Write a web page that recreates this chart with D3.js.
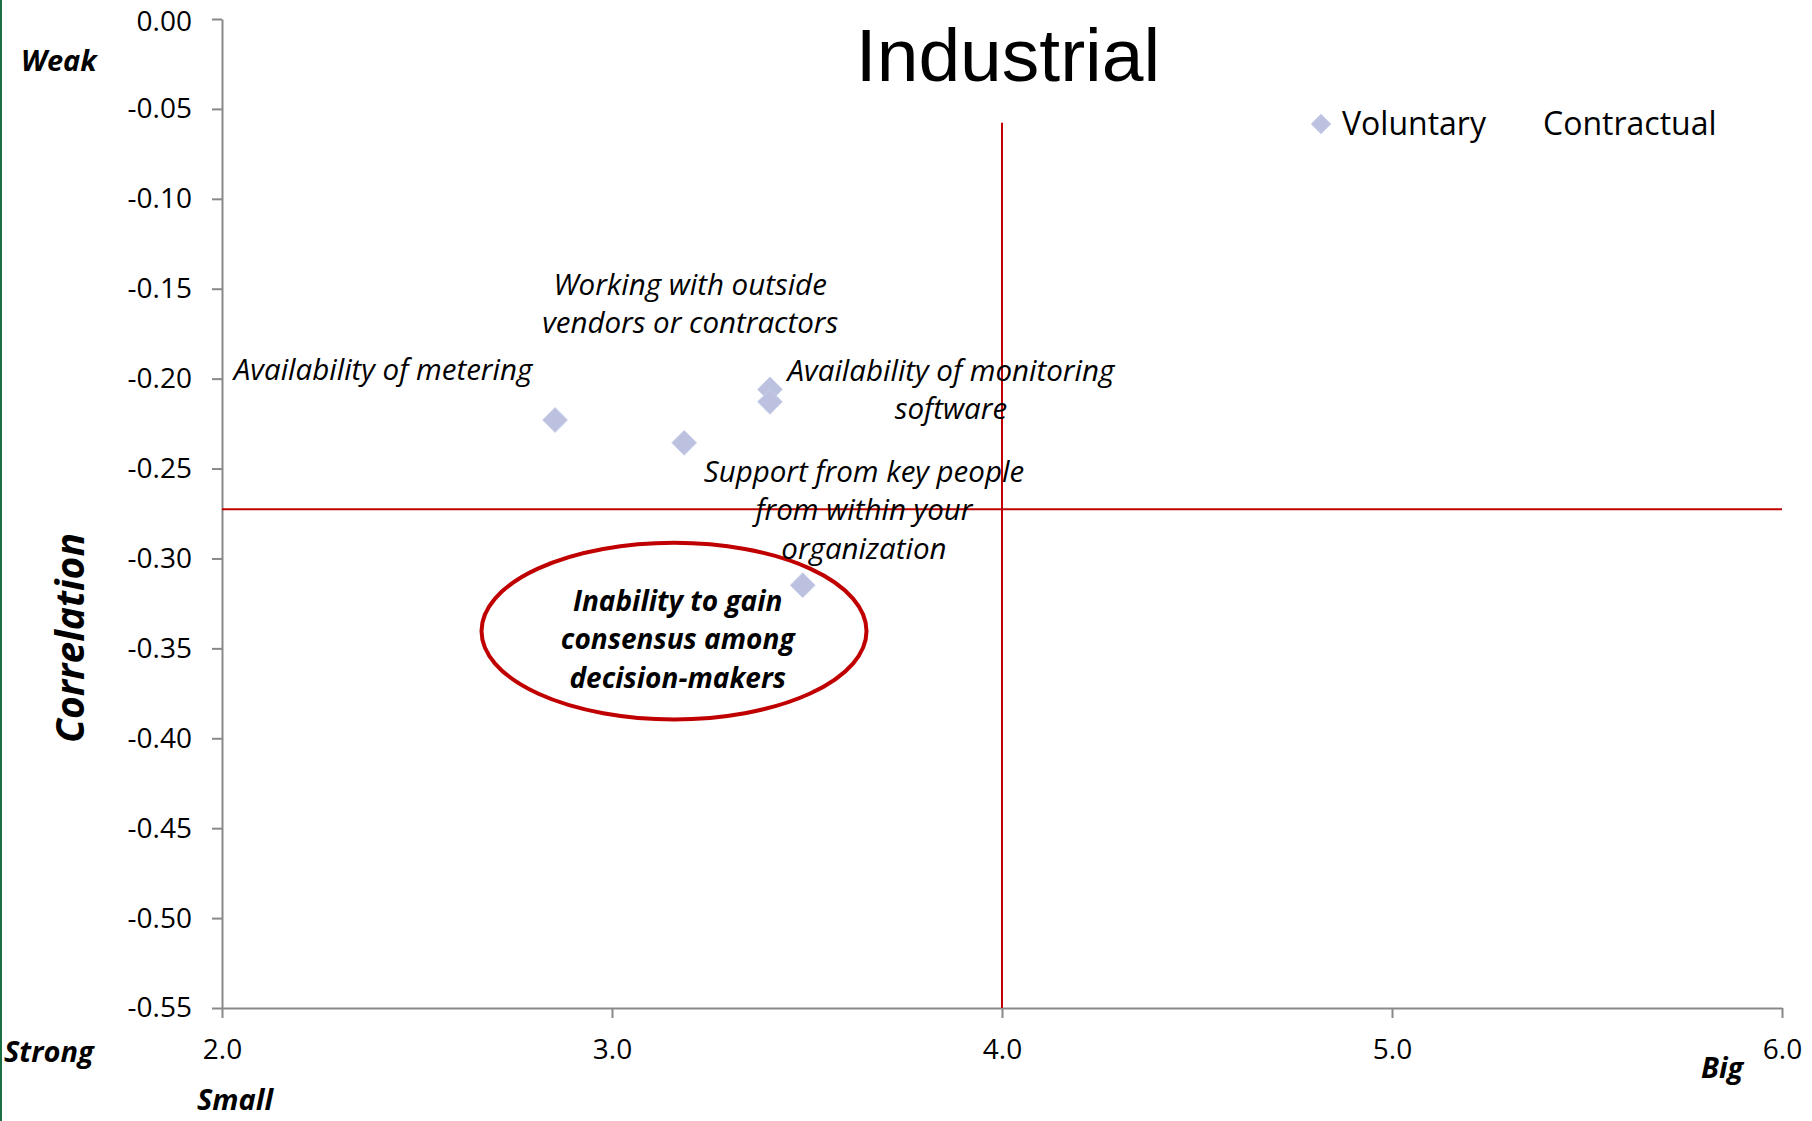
<!DOCTYPE html>
<html>
<head>
<meta charset="utf-8">
<script src="https://cdn.jsdelivr.net/npm/d3@7/dist/d3.min.js"></script>
<style>
  html, body { margin: 0; padding: 0; background: #fff; }
  svg { display: block; }
  text { font-family: "Open Sans", sans-serif; fill: #000; }
</style>
</head>
<body>
<svg id="chart" width="1812" height="1121"></svg>
<script>
// Series: barrier size (x) vs. correlation (y)
const voluntaryX = [2.854, 3.185, 3.405, 3.405, 3.489];
const voluntaryY = [-0.223, -0.2357, -0.206, -0.2129, -0.3149];
const contractualX = [];
const contractualY = [];

const pointLabels = [
  ["Availability of metering"],
  ["Working with outside", "vendors or contractors"],
  ["Availability of monitoring", "software"],
  ["Support from key people", "from within your", "organization"],
  ["Inability to gain", "consensus among", "decision-makers"]
];

// Quadrant dividers and highlighted region
const dividerY = -0.2727;          // horizontal line, spans full x domain
const dividerX = 4.0;              // vertical line
const dividerXTop = -0.0577;       // vertical line starts here
const highlight = { cx: 3.159, cy: -0.3404, rx: 0.4936, ry: 0.0491 };

const xTickValues = [2.0, 3.0, 4.0, 5.0, 6.0];
const yTickValues = [0, -0.05, -0.10, -0.15, -0.20, -0.25, -0.30, -0.35, -0.40, -0.45, -0.50, -0.55];
const seriesNames = ["Voluntary", "Contractual"];
const titleText = "Industrial";

// ---- layout ----
const W = 1812, H = 1121;
const margin = { left: 222, right: 30, top: 19, bottom: 113 };
const svg = d3.select("#chart");

const x = d3.scaleLinear().domain([2, 6]).range([margin.left, W - margin.right]);
const y = d3.scaleLinear().domain([0, -0.55]).range([margin.top, H - margin.bottom]);

const red = "#c00000";
const axisColor = "#898989";

// left edge accent
svg.append("rect").attr("x", 0).attr("y", 0).attr("width", 2).attr("height", H).attr("fill", "#1a7043");

// axes
const yAxis = d3.axisLeft(y).tickValues(yTickValues).tickSize(10).tickSizeOuter(0).tickPadding(20)
  .tickFormat(d => Math.abs(d) < 1e-9 ? "0.00" : d.toFixed(2));
const xAxis = d3.axisBottom(x).tickValues(xTickValues).tickSize(10).tickSizeOuter(0).tickPadding(21)
  .tickFormat(d => d.toFixed(1));

const gy = svg.append("g").attr("transform", `translate(${margin.left},0)`).call(yAxis);
const gx = svg.append("g").attr("transform", `translate(0,${H - margin.bottom})`).call(xAxis);
[gx, gy].forEach(g => {
  g.select(".domain").attr("stroke", axisColor).attr("stroke-width", 2);
  g.selectAll(".tick line").attr("stroke", axisColor).attr("stroke-width", 2);
  g.selectAll(".tick text").style("font-family", "'Open Sans', sans-serif").style("font-size", "28px").attr("fill", "#000");
});
// keep the top tick label inside the canvas
gy.selectAll(".tick text").filter(d => Math.abs(d) < 1e-9).attr("y", 3);

// quadrant lines
svg.append("line")
  .attr("x1", x(2)).attr("x2", x(6)).attr("y1", y(dividerY)).attr("y2", y(dividerY))
  .attr("stroke", red).attr("stroke-width", 2);
svg.append("line")
  .attr("x1", x(dividerX)).attr("x2", x(dividerX)).attr("y1", y(dividerXTop)).attr("y2", y(-0.55))
  .attr("stroke", red).attr("stroke-width", 2);

// title
svg.append("text").attr("x", 1008).attr("y", 81).attr("text-anchor", "middle")
  .style("font-family", "'Liberation Sans', Arial, sans-serif").style("font-size", "75px")
  .text(titleText);

// legend
const diamond = d3.symbol().type(d3.symbolDiamond2);
const lg = svg.append("g");
lg.append("path").attr("d", diamond.size(2 * 11 * 11)())
  .attr("transform", "translate(1321,124)").attr("fill", "#bbc1df").attr("stroke", "#c8cfe9").attr("stroke-width", 1);
lg.append("text").attr("x", 1342).attr("y", 135).style("font-size", "32px").text(seriesNames[0]);
lg.append("text").attr("x", 1543).attr("y", 135).style("font-size", "32px").text(seriesNames[1]);

// highlight ellipse
svg.append("ellipse")
  .attr("cx", x(highlight.cx)).attr("cy", y(highlight.cy))
  .attr("rx", x(highlight.cx + highlight.rx) - x(highlight.cx))
  .attr("ry", y(highlight.cy - highlight.ry) - y(highlight.cy))
  .attr("fill", "none").attr("stroke", red).attr("stroke-width", 4);

// markers
const pts = voluntaryX.map((v, i) => ({ x: v, y: voluntaryY[i], i }));
svg.append("g").selectAll("path").data(pts).join("path")
  .attr("d", diamond.size(2 * 14 * 14)())
  .attr("transform", d => `translate(${x(d.x)},${y(d.y)})`)
  .attr("fill", "#bbc1df").attr("stroke", "#c8cfe9").attr("stroke-width", 1);

// data labels: offset of first baseline from marker centre (px)
const labelOffsets = [
  { dx: -172, dy: -40, bold: false },
  { dx: 6, dy: -148, bold: false },
  { dx: 181, dy: -8.6, bold: false },
  { dx: 94, dy: 80, bold: false },
  { dx: -125, dy: 25.7, bold: true }
];
const lineH = 38.5;
pts.forEach(p => {
  const o = labelOffsets[p.i];
  const t = svg.append("text")
    .attr("text-anchor", "middle")
    .style("font-size", o.bold ? "28px" : "29.5px").style("font-style", "italic")
    .style("font-weight", o.bold ? 700 : 400);
  pointLabels[p.i].forEach((ln, k) => {
    t.append("tspan").attr("x", x(p.x) + o.dx).attr("y", y(p.y) + o.dy + k * lineH).text(ln);
  });
});

// axis end captions
const cap = (txt, px, py) => svg.append("text").attr("x", px).attr("y", py)
  .style("font-size", "29px").style("font-style", "italic").style("font-weight", 700).text(txt);
cap("Weak", 21, 71);
cap("Strong", 4, 1062);
cap("Small", 197, 1110);
cap("Big", 1701, 1078);

svg.append("text").attr("transform", "translate(84,638) rotate(-90)").attr("text-anchor", "middle")
  .style("font-size", "39px").style("font-style", "italic").style("font-weight", 700).text("Correlation");
</script>
</body>
</html>
